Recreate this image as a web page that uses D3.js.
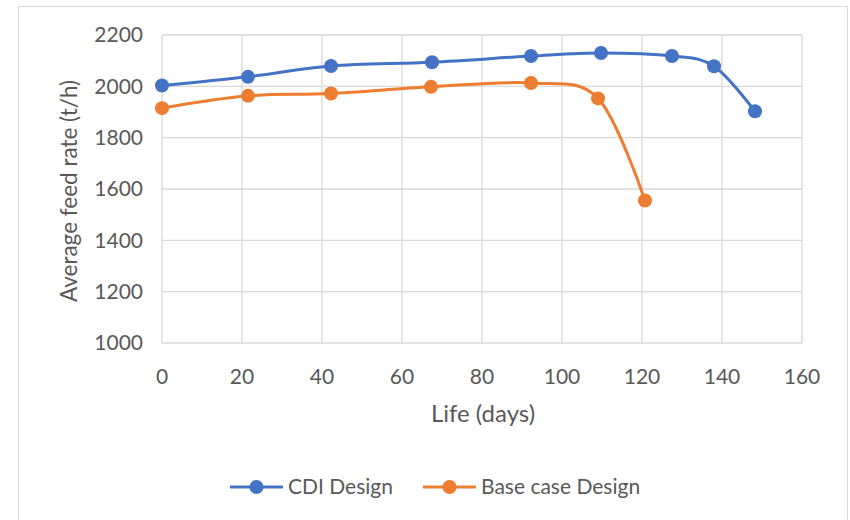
<!DOCTYPE html>
<html><head><meta charset="utf-8">
<script src="https://cdn.jsdelivr.net/npm/d3@7"></script>
<style>body{margin:0;background:#fff}svg{display:block}text{font-family:Lato,"Open Sans",sans-serif;fill:#595959}</style>
</head><body><svg id="c" width="850" height="520"></svg>
<script>
const cdiDays  = [0, 21.5, 42.25, 67.5, 92.25, 109.75, 127.5, 138, 148.25];
const cdiRate  = [2003, 2037, 2079, 2094, 2118, 2130, 2118, 2078, 1903];
const baseDays = [0, 21.5, 42.25, 67.25, 92.25, 109, 120.75];
const baseRate = [1915, 1963, 1972, 1998, 2013, 1953, 1555];
const xTicks = [0,20,40,60,80,100,120,140,160];
const yTicks = [1000,1200,1400,1600,1800,2000,2200];
const seriesNames = ["CDI Design","Base case Design"];
const colors = ["#4472C4","#ED7D31"];

const svg = d3.select("#c");
svg.append("rect").attr("x",18.5).attr("y",6.5).attr("width",829).attr("height",530)
  .attr("fill","#fff").attr("stroke","#d9d9d9");

const x = d3.scaleLinear().domain([0,160]).range([162,802]);
const y = d3.scaleLinear().domain([1000,2200]).range([343,35]);

const grid = svg.append("g");
grid.selectAll(".h").data(yTicks).join("line")
  .attr("x1",x(0)).attr("x2",x(160)).attr("y1",d=>y(d)).attr("y2",d=>y(d))
  .attr("stroke","#d9d9d9").attr("stroke-width",1.3);
grid.selectAll(".v").data(xTicks).join("line")
  .attr("y1",y(1000)).attr("y2",y(2200)).attr("x1",d=>x(d)).attr("x2",d=>x(d))
  .attr("stroke","#d9d9d9").attr("stroke-width",1.3);

svg.append("g").selectAll("text").data(yTicks).join("text")
  .attr("x",143).attr("y",d=>y(d)).attr("dy","0.35em").attr("text-anchor","end")
  .attr("font-size",21).text(d=>d);
svg.append("g").selectAll("text").data(xTicks).join("text")
  .attr("x",d=>x(d)).attr("y",377).attr("dy","0.35em").attr("text-anchor","middle")
  .attr("font-size",21).text(d=>d);

svg.append("text").attr("x",483).attr("y",414).attr("dy","0.35em").attr("text-anchor","middle")
  .attr("font-size",24).text("Life (days)");
svg.append("text").attr("transform","translate(69,191) rotate(-90)").attr("dy","0.35em")
  .attr("text-anchor","middle").attr("font-size",22.5).text("Average feed rate (t/h)");

const line = d3.line().x(d=>x(d[0])).y(d=>y(d[1])).curve(d3.curveCatmullRom.alpha(0));
const series = [d3.zip(cdiDays,cdiRate), d3.zip(baseDays,baseRate)];
series.forEach((s,i)=>{
  svg.append("path").datum(s).attr("d",line).attr("fill","none")
    .attr("stroke",colors[i]).attr("stroke-width",3).attr("stroke-linecap","round");
  svg.append("g").selectAll("circle").data(s).join("circle")
    .attr("cx",d=>x(d[0])).attr("cy",d=>y(d[1])).attr("r",7).attr("fill",colors[i]);
});

const leg = [{x0:230,name:seriesNames[0]},{x0:423,name:seriesNames[1]}];
leg.forEach((l,i)=>{
  svg.append("line").attr("x1",l.x0).attr("x2",l.x0+53).attr("y1",487).attr("y2",487)
    .attr("stroke",colors[i]).attr("stroke-width",3);
  svg.append("circle").attr("cx",l.x0+26.5).attr("cy",487).attr("r",7).attr("fill",colors[i]);
  svg.append("text").attr("x",l.x0+58).attr("y",487).attr("dy","0.35em")
    .attr("font-size",21).text(l.name);
});
</script></body></html>
